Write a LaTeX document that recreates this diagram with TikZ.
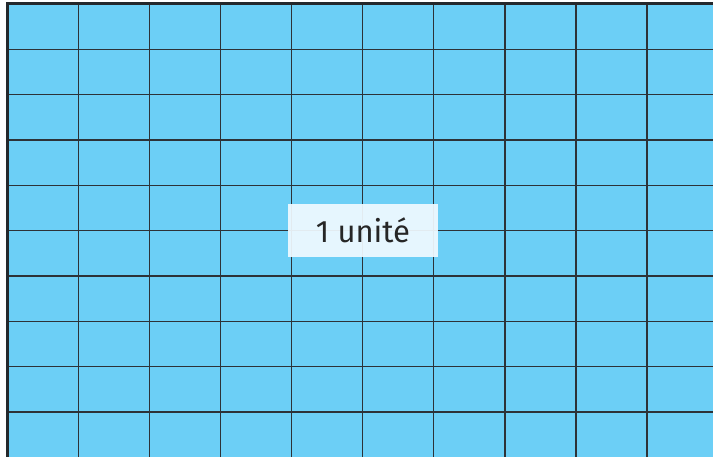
\documentclass[tikz,border=0pt]{standalone}
\usepackage{fontspec}
\setmainfont{Fira Sans}
\definecolor{cellblue}{RGB}{108,207,246}
\definecolor{gridline}{RGB}{45,50,55}
\definecolor{labelbg}{RGB}{240,250,255}
\tikzset{
  gridstroke/.style={draw=gridline, line width=1.2pt},
  borderstroke/.style={draw=gridline!80!black, line width=3pt},
  labelbox/.style={fill=labelbg, fill opacity=0.93, text opacity=1, inner sep=0pt,
    minimum width=150pt, minimum height=53pt, font=\fontsize{31}{36}\selectfont, text=black!85}
}
\begin{document}
\begin{tikzpicture}[x=1pt,y=1pt]
\useasboundingbox (0,0) rectangle (713,456);
\begin{scope}
\clip (0,0) rectangle (713,456);
\fill[white] (0,0) rectangle (713,456);
\fill[cellblue] (7.5,-5) rectangle (720,452);
\foreach \i in {1,...,9} {
  \draw[gridstroke] ({7.5+71.06*\i},-5) -- ({7.5+71.06*\i},452);
}
\foreach \j in {1,...,9} {
  \draw[gridstroke] (7.5,{452-45.33*\j}) -- (720,{452-45.33*\j});
}
\draw[borderstroke] (7.5,-5) -- (7.5,452) -- (720,452);
\end{scope}
\node[labelbox] (lbl) at (363,225.5) {1 unité};
\end{tikzpicture}
\end{document}
